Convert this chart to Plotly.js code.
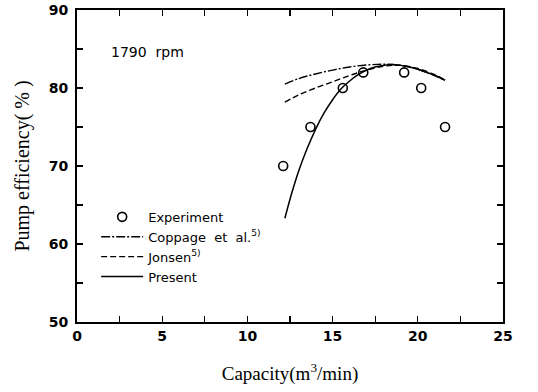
<!DOCTYPE html>
<html>
<head>
<meta charset="utf-8">
<script src="https://cdn.plot.ly/plotly-3.0.1.min.js"></script>
<style>
  html, body { margin: 0; padding: 0; background: #fff; }
  #chart { width: 538px; height: 392px; }
</style>
</head>
<body>
<div id="chart"></div>
<script>
// Measured pump efficiency at 1790 rpm
const expCapacity = [12.1, 13.7, 15.6, 16.8, 19.2, 20.2, 21.6];
const expEfficiency = [70, 75, 80, 82, 82, 80, 75];

// Coppage et al. prediction
const coppageCapacity = [12.2, 13.0, 14.0, 15.0, 16.0, 17.0, 18.0, 19.0, 20.0, 21.0, 21.6];
const coppageEfficiency = [80.5, 81.2, 81.8, 82.3, 82.7, 82.95, 83.05, 82.9, 82.4, 81.6, 81.0];

// Jonsen prediction
const jonsenCapacity = [12.2, 13.0, 14.0, 15.0, 16.0, 17.0, 18.0, 19.0, 20.0, 21.0, 21.6];
const jonsenEfficiency = [78.2, 79.1, 80.0, 80.8, 81.6, 82.3, 82.8, 82.9, 82.5, 81.7, 81.0];

// Present model
const presentCapacity = [12.2, 12.6, 13.0, 13.5, 14.0, 14.5, 15.0, 15.5, 16.0, 16.5, 17.0, 17.5, 18.0, 18.5, 19.0, 19.5, 20.0, 20.5, 21.0, 21.6];
const presentEfficiency = [63.3, 66.5, 69.3, 72.2, 74.7, 76.8, 78.5, 79.9, 80.9, 81.7, 82.3, 82.7, 82.9, 83.0, 82.9, 82.7, 82.4, 82.0, 81.6, 81.0];

const sans = 'DejaVu Sans, Verdana, sans-serif';
const serif = 'Liberation Serif, Times New Roman, serif';

const traces = [
  {
    x: expCapacity, y: expEfficiency, name: 'Experiment', type: 'scatter', mode: 'markers',
    marker: { symbol: 'circle-open', size: 9, color: '#000', line: { width: 1.6, color: '#000' } }
  },
  {
    x: coppageCapacity, y: coppageEfficiency, name: 'Coppage  et  al.<sup>5)</sup>', type: 'scatter', mode: 'lines',
    line: { color: '#000', width: 1.4, dash: '9px,2px,2px,2px', shape: 'spline' }
  },
  {
    x: jonsenCapacity, y: jonsenEfficiency, name: 'Jonsen<sup>5)</sup>', type: 'scatter', mode: 'lines',
    line: { color: '#000', width: 1.4, dash: '6px,3px', shape: 'spline' }
  },
  {
    x: presentCapacity, y: presentEfficiency, name: 'Present', type: 'scatter', mode: 'lines',
    line: { color: '#000', width: 1.5, shape: 'spline' }
  }
];

const axisCommon = {
  showgrid: false, zeroline: false,
  showline: true, linecolor: '#000', linewidth: 2, mirror: 'ticks',
  ticks: 'inside', ticklen: 6, tickwidth: 1.2, tickcolor: '#000',
  tickfont: { family: sans, size: 14, color: '#000', weight: 'bold' }
};

const layout = {
  width: 538, height: 392,
  margin: { l: 77, r: 35, t: 10, b: 70 },
  paper_bgcolor: '#fff', plot_bgcolor: '#fff',
  showlegend: true,
  legend: {
    x: 0.045, y: 0.385, xanchor: 'left', yanchor: 'top',
    bgcolor: 'rgba(0,0,0,0)', borderwidth: 0,
    font: { family: sans, size: 13, color: '#000' },
    itemwidth: 42,
    tracegroupgap: 0
  },
  xaxis: Object.assign({}, axisCommon, {
    range: [0, 25], dtick: 5, tick0: 0,
    minor: { dtick: 2.5, ticks: 'inside', ticklen: 6, tickwidth: 1.2, tickcolor: '#000' },
    title: { text: 'Capacity(m<sup>3</sup>/min)', font: { family: serif, size: 19, color: '#000' }, standoff: 24 }
  }),
  yaxis: Object.assign({}, axisCommon, {
    range: [50, 90], dtick: 10, tick0: 50,
    minor: { dtick: 5, ticks: 'inside', ticklen: 6, tickwidth: 1.2, tickcolor: '#000' },
    ticklabelstandoff: 4,
    title: { text: 'Pump efficiency( % )', font: { family: serif, size: 20, color: '#000' }, standoff: 14 }
  }),
  annotations: [
    {
      xref: 'paper', yref: 'paper', x: 0.075, y: 0.865, xanchor: 'left', yanchor: 'middle',
      text: '1790  rpm', showarrow: false, font: { family: sans, size: 14, color: '#000' }
    }
  ]
};

Plotly.newPlot('chart', traces, layout, { displayModeBar: false, staticPlot: true });
</script>
</body>
</html>
